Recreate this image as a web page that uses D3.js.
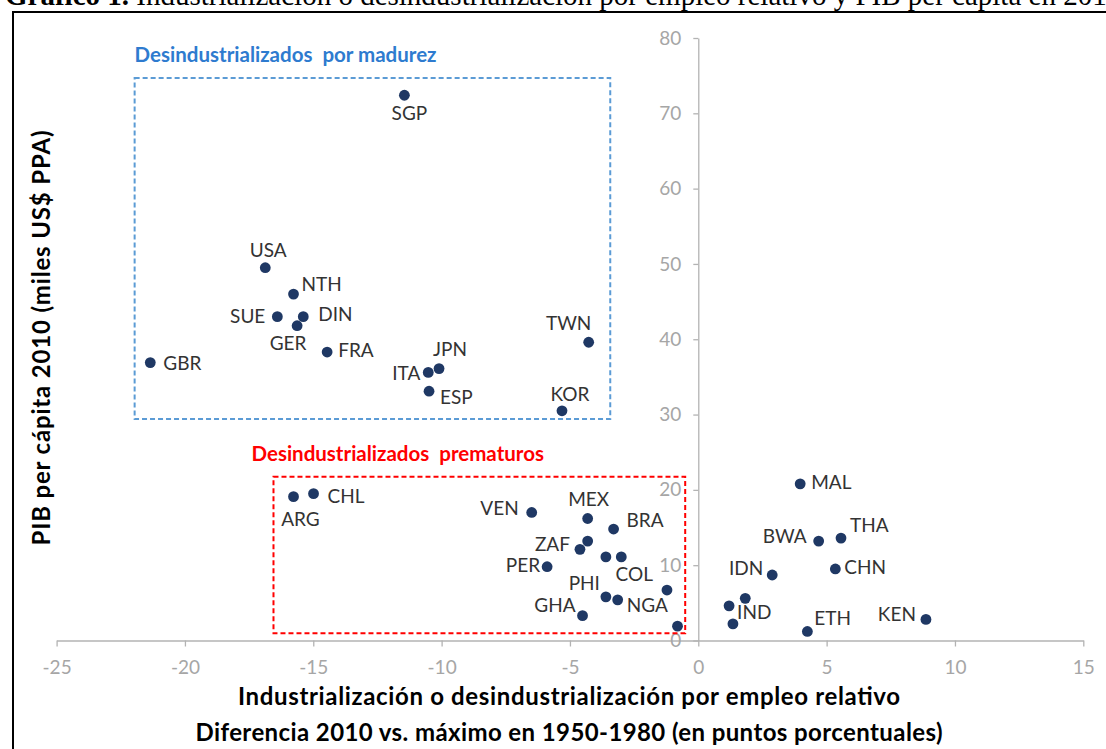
<!DOCTYPE html>
<html lang="es">
<head>
<meta charset="UTF-8">
<title>Gráfico 1</title>
<script src="https://d3js.org/d3.v7.min.js"></script>
<style>
  body { margin: 0; background: white; }
  svg { display: block; }
</style>
</head>
<body>
<div id="chart"></div>
<script>
// data
var codes = ["SGP","USA","NTH","SUE","DIN","GER","FRA","GBR","ITA","JPN","ESP","TWN","KOR",
  "ARG","CHL","VEN","MEX","BRA","ZAF1","ZAF","X1","COL","PER","X2","PHI","NGA","GHA","X3",
  "MAL","BWA","THA","CHN","IDN","IND1","IND","IND3","ETH","KEN"];
var labels = ["SGP","USA","NTH","SUE","DIN","GER","FRA","GBR","ITA","JPN","ESP","TWN","KOR",
  "ARG","CHL","VEN","MEX","BRA","","ZAF","","COL","PER","","PHI","NGA","GHA","",
  "MAL","BWA","THA","CHN","IDN","","IND","","ETH","KEN"];
var empleo = [-11.45,-16.87,-15.77,-16.40,-15.39,-15.63,-14.46,-21.35,-10.52,-10.10,-10.49,-4.27,-5.31,
  -15.77,-14.99,-6.49,-4.31,-3.30,-4.31,-4.61,-3.60,-3.00,-5.89,-1.22,-3.60,-3.14,-4.51,-0.81,
  3.97,4.69,5.56,5.34,2.88,1.83,1.20,1.35,4.25,8.87];
var pib = [72.4,49.5,46.0,43.0,43.0,41.8,38.3,36.9,35.6,36.1,33.1,39.6,30.5,
  19.1,19.5,17.0,16.2,14.8,13.2,12.1,11.1,11.1,9.8,6.7,5.8,5.4,3.3,1.9,
  20.8,13.2,13.6,9.5,8.7,5.6,4.6,2.2,1.2,2.8];

// label placement next to each dot: [dx, dy, anchor]
var labelPos = [[5,25,"middle"],[3,-11,"middle"],[8,-3,"start"],[-12,6,"end"],[15,4,"start"],
  [-9,24,"middle"],[11,5,"start"],[13,7,"start"],[-8,8,"end"],[11,-13,"middle"],[11,13,"start"],
  [-20,-12,"middle"],[8,-10,"middle"],
  [7,29,"middle"],[14,9,"start"],[-13,3,"end"],[1,-12,"middle"],[13,-2,"start"],[0,0,"start"],
  [-10,2,"end"],[0,0,"start"],[13,24,"middle"],[-7,5,"end"],[0,0,"start"],[-6,-7,"end"],
  [9,12,"start"],[-7,-4,"end"],[0,0,"start"],
  [11,5,"start"],[-12,2,"end"],[9,-6,"start"],[9,5,"start"],[-9,0,"end"],[0,0,"start"],
  [8,13,"start"],[0,0,"start"],[7,-6,"start"],[-10,2,"end"]];

var xTicks = [-25,-20,-15,-10,-5,0,5,10,15];
var xTickLabels = ["-25","-20","-15","-10","-5","0","5","10","15"];
var yTicks = [0,10,20,30,40,50,60,70,80];
var yTickLabels = ["0","10","20","30","40","50","60","70","80"];

// grouping boxes (data units)
var groupNames = ["Desindustrializados  por madurez","Desindustrializados  prematuros"];
var groupX0 = [-21.96,-16.55];
var groupX1 = [-3.43,-0.51];
var groupY0 = [29.4,0.96];
var groupY1 = [74.7,21.75];
var groupColors = ["#5B9BD5","#FF0000"];
var groupTextColors = ["#2E7BCF","#FF0000"];

var margin = { top: 38, right: 22.7, bottom: 108.5, left: 56.6 },
  width = 1106 - margin.left - margin.right,
  height = 749 - margin.top - margin.bottom;

var root = d3.select("#chart")
  .append("svg")
  .attr("width", 1106)
  .attr("height", 749);

// caption cut off at the top of the picture
var cap = root.append("text")
  .attr("x", 5)
  .attr("y", 5)
  .style("font-family", "'Liberation Serif', 'DejaVu Serif', serif")
  .style("font-size", "29px")
  .style("fill", "#000");
cap.append("tspan").style("font-weight", "bold").text("Gráfico 1. ");
cap.append("tspan").text("Industrialización o desindustrialización por empleo relativo y PIB per cápita en 2010");

// frame
root.append("path")
  .attr("d", "M13,760 L13,12 L1120,12")
  .attr("fill", "none")
  .attr("stroke", "#000")
  .attr("stroke-width", 2);

var svg = root.append("g")
  .attr("transform", "translate(" + margin.left + "," + margin.top + ")");

var x = d3.scaleLinear().domain([-25, 15]).range([0, width]);
var y = d3.scaleLinear().domain([0, 80]).range([height, 0]);

// X axis
var xAxis = svg.append("g")
  .attr("transform", "translate(0," + y(0) + ")")
  .call(d3.axisBottom(x).tickValues(xTicks).tickSize(6).tickSizeOuter(0).tickPadding(14)
    .tickFormat(function (d, i) { return xTickLabels[i]; }));

// Y axis at x = 0
var yAxis = svg.append("g")
  .attr("transform", "translate(" + x(0) + ",0)")
  .call(d3.axisLeft(y).tickValues(yTicks).tickSize(5).tickSizeOuter(0).tickPadding(12)
    .tickFormat(function (d, i) { return yTickLabels[i]; }));

[xAxis, yAxis].forEach(function (a) {
  a.select(".domain").attr("stroke", "#B3B3B3").attr("stroke-width", 1.3);
  a.selectAll(".tick line").attr("stroke", "#B3B3B3").attr("stroke-width", 1.3);
  a.selectAll(".tick text")
    .style("font-family", "Lato, 'Noto Sans', sans-serif")
    .style("font-size", "19px")
    .style("fill", "#A6A6A6");
});

// group boxes
svg.selectAll(".box")
  .data(groupNames)
  .enter()
  .append("rect")
  .attr("x", function (d, i) { return x(groupX0[i]); })
  .attr("y", function (d, i) { return y(groupY1[i]); })
  .attr("width", function (d, i) { return x(groupX1[i]) - x(groupX0[i]); })
  .attr("height", function (d, i) { return y(groupY0[i]) - y(groupY1[i]); })
  .attr("fill", "none")
  .attr("stroke", function (d, i) { return groupColors[i]; })
  .attr("stroke-width", 2)
  .attr("stroke-dasharray", "5,3");

svg.selectAll(".boxlabel")
  .data(groupNames)
  .enter()
  .append("text")
  .attr("x", function (d, i) { return x(groupX0[i]) + (i === 0 ? 0 : -22); })
  .attr("y", function (d, i) { return y(groupY1[i]) - 16; })
  .style("font-family", "Lato, 'Noto Sans', sans-serif")
  .style("font-size", "20.5px")
  .style("font-weight", "bold")
  .style("white-space", "pre")
  .style("fill", function (d, i) { return groupTextColors[i]; })
  .text(function (d) { return d; });

// dots
svg.selectAll(".dot")
  .data(codes)
  .enter()
  .append("circle")
  .attr("cx", function (d, i) { return x(empleo[i]); })
  .attr("cy", function (d, i) { return y(pib[i]); })
  .attr("r", 5.4)
  .attr("fill", "#1F3864");

// country labels
svg.selectAll(".lbl")
  .data(labels)
  .enter()
  .append("text")
  .attr("x", function (d, i) { return x(empleo[i]) + labelPos[i][0]; })
  .attr("y", function (d, i) { return y(pib[i]) + labelPos[i][1]; })
  .attr("text-anchor", function (d, i) { return labelPos[i][2]; })
  .style("font-family", "Lato, 'Noto Sans', sans-serif")
  .style("font-size", "19px")
  .style("fill", "#333")
  .text(function (d) { return d; });

// axis titles
root.append("text")
  .attr("transform", "translate(50,338) rotate(-90)")
  .attr("text-anchor", "middle")
  .attr("textLength", 415)
  .style("font-family", "Lato, 'Noto Sans', sans-serif")
  .style("font-size", "24px")
  .style("font-weight", "bold")
  .text("PIB per cápita 2010 (miles US$ PPA)");

root.append("text")
  .attr("x", 569)
  .attr("y", 705)
  .attr("text-anchor", "middle")
  .attr("textLength", 662)
  .style("font-family", "Lato, 'Noto Sans', sans-serif")
  .style("font-size", "24px")
  .style("font-weight", "bold")
  .text("Industrialización o desindustrialización por empleo relativo");

root.append("text")
  .attr("x", 569)
  .attr("y", 741)
  .attr("text-anchor", "middle")
  .attr("textLength", 747)
  .style("font-family", "Lato, 'Noto Sans', sans-serif")
  .style("font-size", "24px")
  .style("font-weight", "bold")
  .text("Diferencia 2010 vs. máximo en 1950-1980 (en puntos porcentuales)");
</script>
</body>
</html>
